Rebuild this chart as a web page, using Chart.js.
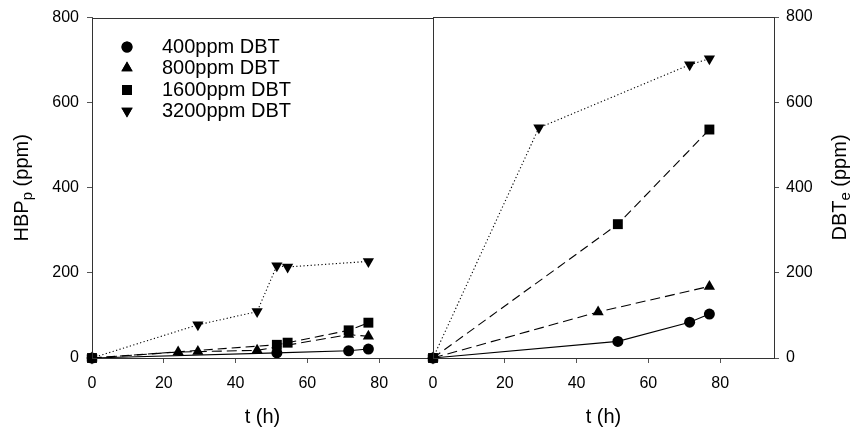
<!DOCTYPE html>
<html>
<head>
<meta charset="utf-8">
<title>HBP and DBT vs time</title>
<script src="https://cdn.jsdelivr.net/npm/chart.js@4.4.0/dist/chart.umd.min.js"></script>
<style>
  html, body { margin: 0; padding: 0; background: #fff; }
  #wrap { position: relative; width: 854px; height: 429px; }
  #wrap canvas { position: absolute; left: 0; top: 0; }
</style>
</head>
<body>
<div id="wrap">
  <canvas id="hbpChart" width="854" height="429"></canvas>
  <canvas id="dbtChart" width="854" height="429"></canvas>
</div>
<script>
var seriesLabels = ['400ppm DBT', '800ppm DBT', '1600ppm DBT', '3200ppm DBT'];
var xTicks = [0, 20, 40, 60, 80];
var yTicks = [0, 200, 400, 600, 800];

// HBP produced (left panel)
var hbpTime400 = [0, 51.5, 71.5, 77];
var hbp400 = [0, 12, 17, 21];
var hbpTime800 = [0, 24, 29.5, 46, 71.5, 77];
var hbp800 = [0, 14, 15, 18, 55, 51];
var hbpTime1600 = [0, 51.5, 54.5, 71.5, 77];
var hbp1600 = [0, 31, 36, 65, 83];
var hbpTime3200 = [0, 29.5, 46, 51.5, 54.5, 77];
var hbp3200 = [0, 78, 109, 217, 214, 227];

// DBT consumed (right panel)
var dbtTime400 = [0, 51.5, 71.5, 77];
var dbt400 = [0, 39, 84, 103];
var dbtTime800 = [0, 46, 77];
var dbt800 = [0, 108, 168];
var dbtTime1600 = [0, 51.5, 77];
var dbt1600 = [0, 314, 536];
var dbtTime3200 = [0, 29.5, 71.5, 77];
var dbt3200 = [0, 540, 688, 702];

var FONT = "'Liberation Sans', Arial, Helvetica, sans-serif";
var AXIS = '#555';

var markers = [
  { pointStyle: 'circle', radius: 5.5, rotation: 0 },
  { pointStyle: 'triangle', radius: 6.5, rotation: 0 },
  { pointStyle: 'rect', radius: 7, rotation: 0 },
  { pointStyle: 'triangle', radius: 6.5, rotation: 180 }
];
var dashes = [[], [10, 5], [9, 5], [1.2, 2.4]];

function pairs(xs, ys) {
  return xs.map(function(x, i) { return { x: x, y: ys[i] }; });
}

function makeDatasets(series) {
  return series.map(function(s, i) {
    return {
      label: seriesLabels[i],
      data: pairs(s[0], s[1]),
      borderColor: '#000',
      backgroundColor: '#000',
      borderWidth: 1.1,
      borderDash: dashes[i],
      pointStyle: markers[i].pointStyle,
      pointRadius: markers[i].radius,
      pointRotation: markers[i].rotation,
      pointBorderWidth: 0,
      pointBackgroundColor: '#000',
      tension: 0,
      clip: false
    };
  });
}

// outline of the plot area (top and side lines)
var framePlugin = {
  id: 'frame',
  afterDraw: function(chart) {
    var a = chart.chartArea, ctx = chart.ctx;
    ctx.save();
    ctx.strokeStyle = '#333';
    ctx.lineWidth = 1;
    ctx.strokeRect(Math.round(a.left) + 0.5, Math.round(a.top) + 0.5,
      Math.round(a.right - a.left), Math.round(a.bottom - a.top));
    ctx.restore();
  }
};

// rotated y title with a subscript
function yTitlePlugin(main, sub, rest, cx) {
  return {
    id: 'yTitle',
    afterDraw: function(chart) {
      var ctx = chart.ctx, a = chart.chartArea;
      var cy = (a.top + a.bottom) / 2;
      ctx.save();
      ctx.translate(cx, cy);
      ctx.rotate(-Math.PI / 2);
      ctx.fillStyle = '#000';
      ctx.textBaseline = 'middle';
      ctx.textAlign = 'left';
      var big = '20px ' + FONT, small = '15px ' + FONT;
      ctx.font = big;
      var w1 = ctx.measureText(main).width, w3 = ctx.measureText(rest).width;
      ctx.font = small;
      var w2 = ctx.measureText(sub).width;
      var x = -(w1 + w2 + w3) / 2;
      ctx.font = big;
      ctx.fillText(main, x, 0);
      ctx.font = small;
      ctx.fillText(sub, x + w1, 6);
      ctx.font = big;
      ctx.fillText(rest, x + w1 + w2, 0);
      ctx.restore();
    }
  };
}

var legendPlugin = {
  id: 'legendBox',
  afterDraw: function(chart) {
    var ctx = chart.ctx;
    var rows = [47, 68, 90, 111];
    ctx.save();
    chart.data.datasets.forEach(function(ds, i) {
      ctx.fillStyle = '#000';
      Chart.helpers.drawPoint(ctx, {
        pointStyle: ds.pointStyle,
        radius: ds.pointRadius,
        rotation: ds.pointRotation,
        borderWidth: 0
      }, 127, rows[i]);
      ctx.fill();
      ctx.font = '20px ' + FONT;
      ctx.textBaseline = 'middle';
      ctx.textAlign = 'left';
      ctx.fillText(ds.label, 162, rows[i]);
    });
    ctx.restore();
  }
};

function scales(yPos, yWidth, yPad) {
  return {
    x: {
      type: 'linear', min: 0, max: 95,
      afterBuildTicks: function(s) { s.ticks = xTicks.map(function(v) { return { value: v }; }); },
      afterFit: function(s) { s.height = 71; },
      grid: { drawOnChartArea: false, drawTicks: true, tickLength: 5, color: AXIS },
      border: { color: AXIS, width: 1 },
      ticks: { color: '#000', font: { family: FONT, size: 16 }, padding: 11, maxRotation: 0 },
      title: { display: true, text: 't (h)', color: '#000', font: { family: FONT, size: 20 }, padding: 0 }
    },
    y: {
      type: 'linear', position: yPos, min: 0, max: 800,
      afterBuildTicks: function(s) { s.ticks = yTicks.map(function(v) { return { value: v }; }); },
      afterFit: function(s) { s.width = yWidth; },
      grid: { drawOnChartArea: false, drawTicks: true, tickLength: 5, color: AXIS },
      border: { color: AXIS, width: 1 },
      ticks: { color: '#000', font: { family: FONT, size: 16 }, padding: yPad }
    }
  };
}

var common = {
  responsive: false,
  animation: false,
  events: [],
  plugins: { legend: { display: false }, tooltip: { enabled: false } }
};

new Chart(document.getElementById('hbpChart').getContext('2d'), {
  type: 'line',
  data: {
    datasets: makeDatasets([
      [hbpTime400, hbp400], [hbpTime800, hbp800],
      [hbpTime1600, hbp1600], [hbpTime3200, hbp3200]
    ])
  },
  options: Object.assign({}, common, {
    layout: { padding: { top: 17, right: 421, left: 0, bottom: 0 } },
    scales: scales('left', 92, 8)
  }),
  plugins: [framePlugin, yTitlePlugin('HBP', 'p', ' (ppm)', 22), legendPlugin]
});

new Chart(document.getElementById('dbtChart').getContext('2d'), {
  type: 'line',
  data: {
    datasets: makeDatasets([
      [dbtTime400, dbt400], [dbtTime800, dbt800],
      [dbtTime1600, dbt1600], [dbtTime3200, dbt3200]
    ])
  },
  options: Object.assign({}, common, {
    layout: { padding: { top: 17, right: 0, left: 433, bottom: 0 } },
    scales: scales('right', 80, 7)
  }),
  plugins: [framePlugin, yTitlePlugin('DBT', 'e', ' (ppm)', 840)]
});
</script>
</body>
</html>
